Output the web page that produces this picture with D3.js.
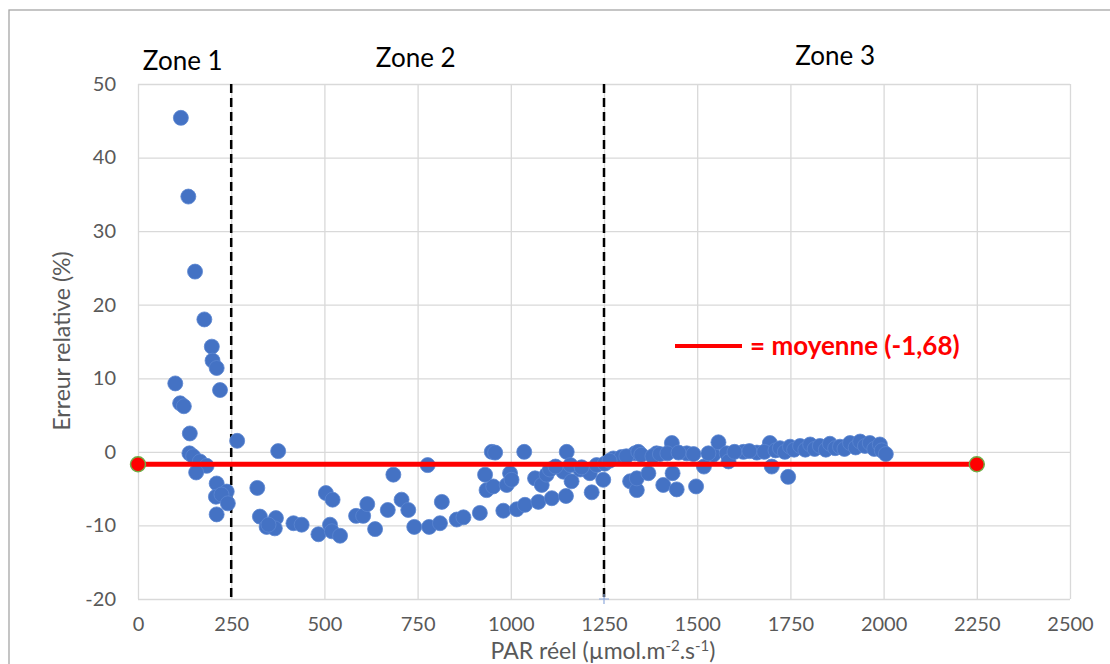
<!DOCTYPE html>
<html>
<head>
<meta charset="utf-8">
<script src="https://cdn.jsdelivr.net/npm/d3@7"></script>
<style>
html,body{margin:0;padding:0;background:#fff;}
svg{display:block;}
text{font-family:Lato,"Open Sans",sans-serif;}
</style>
</head>
<body>
<svg id="chart" width="1110" height="664"></svg>
<script>
// ---- data ----
const parX = [115,135,153,178,198,200,211,100,220,113,123,139,266,376,138,148,166,184,156,211,238,209,224,241,211,
  320,327,345,370,367,417,350,439,484,504,522,515,520,542,585,604,615,636,670,685,707,725,741,777,781,810,815,
  855,873,917,980,1016,1038,1074,1110,1148,1217,935,953,931,949,958,989,998,1002,1036,1065,1083,1096,1105,1150,
  1141,1163,1186,1212,1230,1248,1275,1297,1320,1333,1338,1120,1160,1190,1252,1265,1310,
  1342,1338,1369,1391,1409,1432,1434,1445,1472,1497,1518,1543,1557,1579,1584,1624,1660,1695,1700,1744,
  1350,1380,1400,1420,1450,1490,1530,1600,1640,1680,
  1710,1722,1735,1749,1760,1776,1790,1803,1815,1829,1845,1856,1870,1883,1895,1910,1925,1937,1950,1963,1975,1990,1995,2006];
const errY = [45.4,34.7,24.5,18.0,14.3,12.4,11.4,9.3,8.4,6.6,6.2,2.5,1.5,0.1,-0.2,-0.6,-1.3,-1.9,-2.8,-4.3,-5.4,-6.1,-5.8,-7.0,-8.5,
  -4.9,-8.8,-10.2,-9.0,-10.4,-9.7,-9.9,-9.9,-11.2,-5.6,-6.5,-9.9,-10.8,-11.4,-8.7,-8.7,-7.1,-10.5,-7.9,-3.1,-6.5,-7.9,-10.2,-1.8,-10.2,-9.7,-6.8,
  -9.2,-8.9,-8.3,-8.0,-7.8,-7.2,-6.8,-6.3,-6.0,-5.5,-5.2,-4.7,-3.1,0.0,-0.1,-4.5,-2.9,-3.8,0.0,-3.6,-4.5,-3.1,-2.4,0.0,
  -2.7,-4.0,-2.4,-2.9,-1.8,-3.8,-0.9,-0.7,-4.0,-0.2,-5.2,-2.0,-1.8,-2.1,-1.6,-1.2,-0.6,
  0.0,-3.6,-2.9,-0.2,-4.5,1.2,-2.9,-5.1,-0.2,-4.7,-2.0,-0.4,1.3,-0.2,-1.3,0.0,-0.1,1.2,-2.0,-3.4,
  -0.4,-0.6,-0.3,-0.2,-0.1,-0.3,-0.2,0.0,0.1,0.0,
  0.2,0.5,0.0,0.7,0.3,0.8,0.3,1.0,0.4,0.8,0.3,1.1,0.5,0.7,0.4,1.2,0.6,1.4,0.8,1.2,0.4,1.0,0.2,-0.3];
const meanX = [0, 2250];
const meanY = [-1.68, -1.68];
const zoneX = [250, 1250];
const zoneLabels = ["Zone 1", "Zone 2", "Zone 3"];
const zoneLabelX = [120, 745, 1870];
const xTicks = [0,250,500,750,1000,1250,1500,1750,2000,2250,2500];
const yTicks = [-20,-10,0,10,20,30,40,50];
const legendText = "= moyenne (-1,68)";

// ---- layout ----
const svg = d3.select("#chart");
const L = 138, R = 1070, T = 84, B = 599;
const x = d3.scaleLinear().domain([0, 2500]).range([L, R]);
const y = d3.scaleLinear().domain([-20, 50]).range([B, T]);

// outer frame
svg.append("rect").attr("x", 9).attr("y", 10).attr("width", 1110).attr("height", 700)
  .attr("fill", "none").attr("stroke", "#a6a6a6").attr("stroke-width", 1.3);

// gridlines via axes
const gx = svg.append("g").attr("transform", `translate(0,${B})`)
  .call(d3.axisBottom(x).tickValues(xTicks).tickSize(-(B - T)).tickFormat(d => d).tickPadding(14));
const gy = svg.append("g").attr("transform", `translate(${L},0)`)
  .call(d3.axisLeft(y).tickValues(yTicks).tickSize(-(R - L)).tickFormat(d => d).tickPadding(22));
[gx, gy].forEach(g => {
  g.select(".domain").remove();
  g.selectAll(".tick line").attr("stroke", "#d9d9d9").attr("stroke-width", 1.3);
  g.selectAll(".tick text").attr("fill", "#595959").style("font-size", "20px");
});
gx.selectAll(".tick text").attr("dy", "0.9em");

// zone dashed lines
svg.append("g").selectAll("line").data(zoneX).join("line")
  .attr("x1", d => x(d)).attr("x2", d => x(d)).attr("y1", T).attr("y2", B)
  .attr("stroke", "#000").attr("stroke-width", 2.5).attr("stroke-dasharray", "9,5");
// small cross marker at bottom of zone line
svg.append("path").attr("d", `M${x(zoneX[1])-5},${B}h10M${x(zoneX[1])},${B-5}v10`)
  .attr("stroke", "#8faadc").attr("stroke-width", 1.2);

// scatter
svg.append("g").selectAll("circle").data(parX.map((v, i) => [v, errY[i]])).join("circle")
  .attr("cx", d => x(d[0])).attr("cy", d => y(d[1])).attr("r", 7.5)
  .attr("fill", "#4472c4").attr("stroke", "#5b85d0").attr("stroke-width", 0.8);

// mean line
const meanPts = meanX.map((v, i) => [v, meanY[i]]);
svg.append("path").datum(meanPts)
  .attr("d", d3.line().x(d => x(d[0])).y(d => y(d[1])))
  .attr("stroke", "#ff0000").attr("stroke-width", 5).attr("fill", "none");
svg.append("g").selectAll("circle").data(meanPts).join("circle")
  .attr("cx", d => x(d[0])).attr("cy", d => y(d[1])).attr("r", 7.5)
  .attr("fill", "#ff0000").attr("stroke", "#70ad47").attr("stroke-width", 1.5);

// zone labels
svg.append("g").selectAll("text").data(zoneLabels).join("text")
  .attr("x", (d, i) => x(zoneLabelX[i])).attr("y", (d, i) => [70, 67, 65][i])
  .attr("text-anchor", "middle").attr("fill", "#000").style("font-size", "26px").text(d => d);

// legend
svg.append("line").attr("x1", 675).attr("x2", 742).attr("y1", 346).attr("y2", 346)
  .attr("stroke", "#ff0000").attr("stroke-width", 4);
svg.append("text").attr("x", 750).attr("y", 355).attr("fill", "#ff0000")
  .style("font-size", "26px").style("font-weight", "bold").text(legendText);

// axis titles
svg.append("text").attr("transform", "translate(70,341) rotate(-90)")
  .attr("text-anchor", "middle").attr("fill", "#595959").style("font-size", "23px")
  .text("Erreur relative (%)");
const xt = svg.append("text").attr("x", 603).attr("y", 659).attr("text-anchor", "middle")
  .attr("fill", "#595959").style("font-size", "23px");
xt.append("tspan").text("PAR réel (µmol.m");
xt.append("tspan").attr("dy", -8).style("font-size", "15px").text("-2");
xt.append("tspan").attr("dy", 8).text(".s");
xt.append("tspan").attr("dy", -8).style("font-size", "15px").text("-1");
xt.append("tspan").attr("dy", 8).text(")");
</script>
</body>
</html>
